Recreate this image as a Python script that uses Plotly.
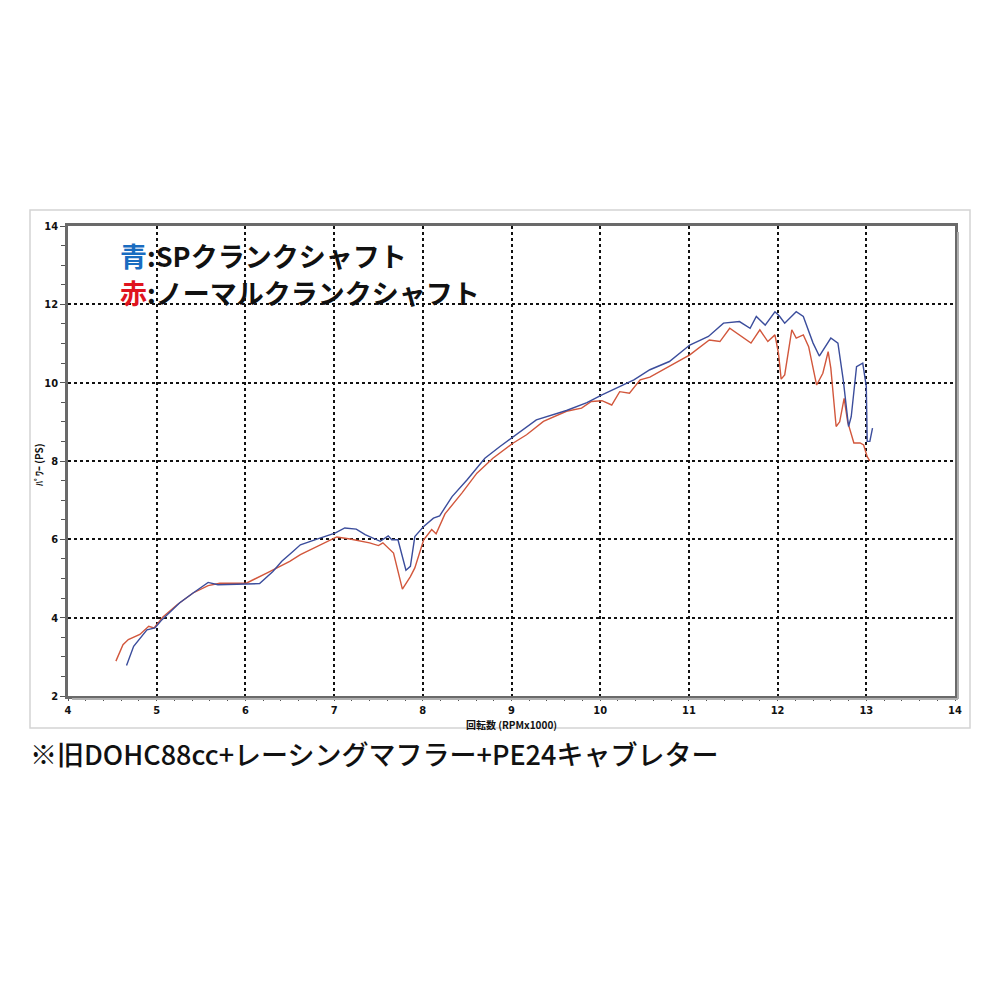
import plotly.graph_objects as go

# SP crankshaft (blue)
blue_rpm = [4.66, 4.74, 4.89, 4.98, 5.06, 5.26, 5.41, 5.58, 5.69, 6.00, 6.16, 6.31, 6.41, 6.52, 6.62,
            6.84, 7.01, 7.12, 7.25, 7.35, 7.40, 7.52, 7.61, 7.65, 7.72, 7.76, 7.81, 7.86, 7.91, 8.01,
            8.12, 8.19, 8.33, 8.50, 8.70, 8.87, 9.02, 9.28, 9.62, 9.85, 10.02, 10.38, 10.56, 10.78,
            11.01, 11.22, 11.39, 11.57, 11.69, 11.76, 11.86, 11.97, 12.02, 12.08, 12.21, 12.29, 12.40,
            12.47, 12.60, 12.68, 12.74, 12.80, 12.83, 12.89, 12.96, 13.00, 13.01, 13.04, 13.07]
blue_ps = [2.78, 3.27, 3.69, 3.74, 3.95, 4.38, 4.63, 4.90, 4.84, 4.87, 4.87, 5.18, 5.44, 5.66, 5.86,
           6.03, 6.16, 6.29, 6.26, 6.12, 6.07, 5.95, 6.09, 5.99, 5.99, 5.65, 5.21, 5.31, 6.07, 6.33,
           6.54, 6.60, 7.09, 7.52, 8.07, 8.37, 8.62, 9.05, 9.29, 9.49, 9.69, 10.07, 10.33, 10.54,
           10.96, 11.18, 11.52, 11.56, 11.39, 11.69, 11.47, 11.81, 11.70, 11.52, 11.81, 11.69, 11.01,
           10.68, 11.14, 11.01, 10.07, 8.88, 9.13, 10.41, 10.50, 9.90, 8.50, 8.50, 8.84]

# Normal crankshaft (red)
red_rpm = [4.54, 4.62, 4.68, 4.81, 4.91, 4.97, 5.07, 5.23, 5.41, 5.58, 5.71, 6.01, 6.24, 6.50, 6.62,
           6.84, 7.03, 7.18, 7.40, 7.50, 7.55, 7.67, 7.72, 7.77, 7.86, 7.91, 8.01, 8.10, 8.15, 8.25,
           8.44, 8.61, 8.79, 9.02, 9.17, 9.36, 9.62, 9.79, 9.90, 10.02, 10.13, 10.22, 10.33, 10.45,
           10.56, 10.78, 11.01, 11.23, 11.35, 11.46, 11.57, 11.70, 11.80, 11.89, 11.97, 12.01, 12.04,
           12.08, 12.16, 12.21, 12.29, 12.35, 12.44, 12.51, 12.57, 12.60, 12.66, 12.70, 12.75, 12.79,
           12.86, 12.93, 12.97, 13.01, 13.04]
red_ps = [2.89, 3.31, 3.44, 3.57, 3.78, 3.74, 4.02, 4.33, 4.63, 4.82, 4.88, 4.88, 5.14, 5.44, 5.61,
          5.86, 6.06, 6.01, 5.91, 5.84, 5.91, 5.65, 5.22, 4.73, 5.05, 5.27, 5.99, 6.25, 6.14, 6.65,
          7.18, 7.69, 8.07, 8.46, 8.67, 9.01, 9.27, 9.35, 9.52, 9.54, 9.43, 9.77, 9.73, 10.07,
          10.14, 10.41, 10.71, 11.09, 11.05, 11.39, 11.22, 11.01, 11.35, 11.05, 11.22, 10.75, 10.09,
          10.20, 11.35, 11.14, 11.22, 10.92, 9.94, 10.24, 10.79, 10.37, 8.88, 9.00, 9.60, 9.00,
          8.46, 8.46, 8.41, 8.11, 8.00]

x_ticks = [4, 5, 6, 7, 8, 9, 10, 11, 12, 13, 14]
y_ticks = [2, 4, 6, 8, 10, 12, 14]

legend_blue = "<span style='color:#1a6cc0'>青</span>:SPクランクシャフト"
legend_red = "<span style='color:#e0141e'>赤</span>:ノーマルクランクシャフト"
x_title = "回転数 (RPMx1000)"
y_title = "ﾊﾟﾜｰ (PS)"
caption = "※旧DOHC88cc+レーシングマフラー+PE24キャブレター"

fig = go.Figure()
fig.add_trace(go.Scatter(x=red_rpm, y=red_ps, mode="lines",
                         line=dict(color="#d2573c", width=1.4), showlegend=False))
fig.add_trace(go.Scatter(x=blue_rpm, y=blue_ps, mode="lines",
                         line=dict(color="#3b4d9c", width=1.4), showlegend=False))

tick_font = dict(family="Liberation Sans Narrow, DejaVu Sans Condensed, sans-serif",
                 size=11, color="#111", weight="bold")

fig.update_xaxes(range=[4, 14], tickvals=x_ticks, showgrid=True, gridcolor="#111",
                 griddash="dot", gridwidth=1.5, showline=True, linecolor="#6a6a6a", linewidth=2.5,
                 mirror=True, ticks="outside", ticklen=2, tickcolor="#555", tickfont=tick_font,
                 minor=dict(dtick=0.2, ticks="outside", ticklen=2, tickcolor="#555", showgrid=False),
                 zeroline=False)
fig.update_yaxes(range=[2, 14], tickvals=y_ticks, showgrid=True, gridcolor="#111",
                 griddash="dot", gridwidth=1.5, showline=True, linecolor="#6a6a6a", linewidth=2.5,
                 mirror=True, ticks="outside", ticklen=5, tickcolor="#555", tickfont=tick_font,
                 minor=dict(dtick=0.5, ticks="outside", ticklen=4, tickcolor="#555", showgrid=False),
                 zeroline=False)

OFF = 8  # browser body margin
W, H = 1000, 1000
L, T = 68 - OFF, 226 - OFF
R = W - (955 - OFF)
B = H - (696 - OFF)
pw, ph = W - L - R, H - T - B

def px(x):
    return (x - OFF - L) / pw

def py(y):
    return (H - B - (y - OFF)) / ph

shapes = [
    dict(type="rect", xref="paper", yref="paper", x0=px(30), x1=px(970), y0=py(728), y1=py(210),
         line=dict(color="#d4d4d4", width=1.5), layer="below"),
    dict(type="line", xref="paper", yref="paper", x0=px(958), x1=px(958), y0=py(699), y1=py(232),
         line=dict(color="#b0b0b0", width=2)),
    dict(type="line", xref="paper", yref="paper", x0=px(72), x1=px(958), y0=py(699), y1=py(699),
         line=dict(color="#b0b0b0", width=2)),
]

annotations = [
    dict(text=legend_blue, xref="paper", yref="paper", x=px(118), y=py(255), xanchor="left",
         yanchor="middle", showarrow=False,
         font=dict(family="Noto Sans CJK JP", size=27, color="#111", weight="bold")),
    dict(text=legend_red, xref="paper", yref="paper", x=px(118), y=py(292), xanchor="left",
         yanchor="middle", showarrow=False,
         font=dict(family="Noto Sans CJK JP", size=27, color="#111", weight="bold")),
    dict(text=x_title, xref="paper", yref="paper", x=px(511), y=py(715), xanchor="center",
         yanchor="top", showarrow=False,
         font=dict(family="Noto Sans CJK JP", size=10, color="#111", weight="bold")),
    dict(text=y_title, xref="paper", yref="paper", x=px(38), y=py(465), xanchor="center",
         yanchor="middle", showarrow=False, textangle=-90,
         font=dict(family="Noto Sans CJK JP", size=10, color="#111", weight="bold")),
    dict(text=caption, xref="paper", yref="paper", x=px(28), y=py(753), xanchor="left",
         yanchor="middle", showarrow=False,
         font=dict(family="Noto Sans CJK JP", size=27, color="#111", weight=500)),
]

fig.update_layout(width=W, height=H, margin=dict(l=L, r=R, t=T, b=B),
                  paper_bgcolor="white", plot_bgcolor="white",
                  shapes=shapes, annotations=annotations, showlegend=False)

fig.write_html("out.html")
